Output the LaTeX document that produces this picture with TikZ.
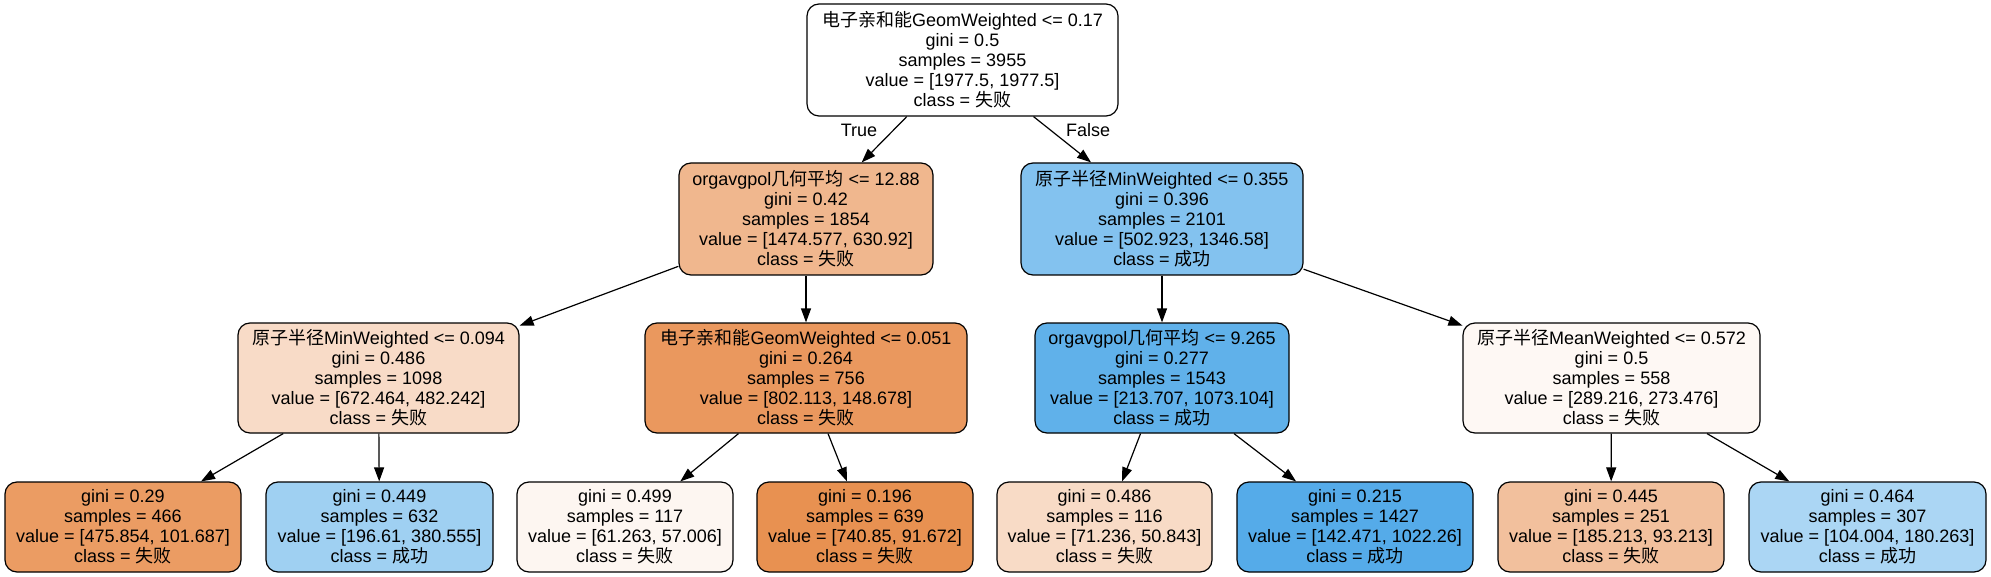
\documentclass[tikz,border=0pt]{standalone}
\usepackage{fontspec}
\setmainfont{Liberation Sans}
\newfontfamily\zhfont{Noto Sans CJK SC}
\usetikzlibrary{arrows.meta}

\newcommand{\zh}[1]{{\zhfont #1}}

% Colores de los nodos
\definecolor{cn1}{RGB}{240,183,142}
\definecolor{cn2}{RGB}{131,194,239}
\definecolor{cn3}{RGB}{248,219,199}
\definecolor{cn4}{RGB}{234,152,94}
\definecolor{cn5}{RGB}{96,177,234}
\definecolor{cn6}{RGB}{254,248,244}
\definecolor{ch1}{RGB}{235,156,99}
\definecolor{ch2}{RGB}{159,208,242}
\definecolor{ch3}{RGB}{253,246,241}
\definecolor{ch4}{RGB}{232,145,81}
\definecolor{ch5}{RGB}{248,219,198}
\definecolor{ch6}{RGB}{85,171,233}
\definecolor{ch7}{RGB}{242,192,157}
\definecolor{ch8}{RGB}{171,214,244}

\begin{document}
\begin{tikzpicture}[x=1pt, y=-1pt,
    caja/.style={draw=black, line width=1.2pt, rounded corners=12pt,
        align=center, inner sep=0pt, minimum height=112pt,
        font=\fontsize{18}{20}\selectfont},
    hoja/.style={caja, minimum height=90pt},
    flecha/.style={-{Triangle[length=14pt, width=10pt]}, line width=1.2pt},
    etiqueta/.style={font=\fontsize{18}{20}\selectfont}]
    \useasboundingbox (0,0) rectangle (1991,577);

    % Nodo raiz
    \node[caja, fill=white, minimum width=311pt] (raiz) at (962.5,60)
        {\zh{电子亲和能}GeomWeighted <= 0.17\\gini = 0.5\\samples = 3955\\value = [1977.5, 1977.5]\\class = \zh{失败}};

    % Primer nivel
    \node[caja, fill=cn1, minimum width=254pt] (n1) at (806,219)
        {orgavgpol\zh{几何平均} <= 12.88\\gini = 0.42\\samples = 1854\\value = [1474.577, 630.92]\\class = \zh{失败}};
    \node[caja, fill=cn2, minimum width=282pt] (n2) at (1162,219)
        {\zh{原子半径}MinWeighted <= 0.355\\gini = 0.396\\samples = 2101\\value = [502.923, 1346.58]\\class = \zh{成功}};

    % Segundo nivel
    \node[caja, fill=cn3, minimum width=281pt, minimum height=110pt] (n3) at (378.5,378)
        {\zh{原子半径}MinWeighted <= 0.094\\gini = 0.486\\samples = 1098\\value = [672.464, 482.242]\\class = \zh{失败}};
    \node[caja, fill=cn4, minimum width=322pt, minimum height=110pt] (n4) at (806,378)
        {\zh{电子亲和能}GeomWeighted <= 0.051\\gini = 0.264\\samples = 756\\value = [802.113, 148.678]\\class = \zh{失败}};
    \node[caja, fill=cn5, minimum width=254pt, minimum height=110pt] (n5) at (1162,378)
        {orgavgpol\zh{几何平均} <= 9.265\\gini = 0.277\\samples = 1543\\value = [213.707, 1073.104]\\class = \zh{成功}};
    \node[caja, fill=cn6, minimum width=297pt, minimum height=110pt] (n6) at (1611.5,378)
        {\zh{原子半径}MeanWeighted <= 0.572\\gini = 0.5\\samples = 558\\value = [289.216, 273.476]\\class = \zh{失败}};

    % Hojas
    \node[hoja, fill=ch1, minimum width=236pt] (h1) at (123,527)
        {gini = 0.29\\samples = 466\\value = [475.854, 101.687]\\class = \zh{失败}};
    \node[hoja, fill=ch2, minimum width=227pt] (h2) at (379.5,527)
        {gini = 0.449\\samples = 632\\value = [196.61, 380.555]\\class = \zh{成功}};
    \node[hoja, fill=ch3, minimum width=216pt] (h3) at (625,527)
        {gini = 0.499\\samples = 117\\value = [61.263, 57.006]\\class = \zh{失败}};
    \node[hoja, fill=ch4, minimum width=216pt] (h4) at (865,527)
        {gini = 0.196\\samples = 639\\value = [740.85, 91.672]\\class = \zh{失败}};
    \node[hoja, fill=ch5, minimum width=215pt] (h5) at (1104.5,527)
        {gini = 0.486\\samples = 116\\value = [71.236, 50.843]\\class = \zh{失败}};
    \node[hoja, fill=ch6, minimum width=236pt] (h6) at (1355,527)
        {gini = 0.215\\samples = 1427\\value = [142.471, 1022.26]\\class = \zh{成功}};
    \node[hoja, fill=ch7, minimum width=226pt] (h7) at (1611,527)
        {gini = 0.445\\samples = 251\\value = [185.213, 93.213]\\class = \zh{失败}};
    \node[hoja, fill=ch8, minimum width=237pt] (h8) at (1867.5,527)
        {gini = 0.464\\samples = 307\\value = [104.004, 180.263]\\class = \zh{成功}};

    % Aristas
    \draw[flecha] (raiz) -- (n1);
    \draw[flecha] (raiz) -- (n2);
    \draw[flecha] (n1) -- (n3);
    \draw[flecha] (n1) -- (n4);
    \draw[flecha] (n2) -- (n5);
    \draw[flecha] (n2) -- (n6);
    \draw[flecha] (n3) -- (h1);
    \draw[flecha] (n3) -- (h2);
    \draw[flecha] (n4) -- (h3);
    \draw[flecha] (n4) -- (h4);
    \draw[flecha] (n5) -- (h5);
    \draw[flecha] (n5) -- (h6);
    \draw[flecha] (n6) -- (h7);
    \draw[flecha] (n6) -- (h8);

    % Etiquetas True / False
    \node[etiqueta] (verdad) at (859,130) {True};
    \node[etiqueta] (falso) at (1088,130) {False};
\end{tikzpicture}
\end{document}
